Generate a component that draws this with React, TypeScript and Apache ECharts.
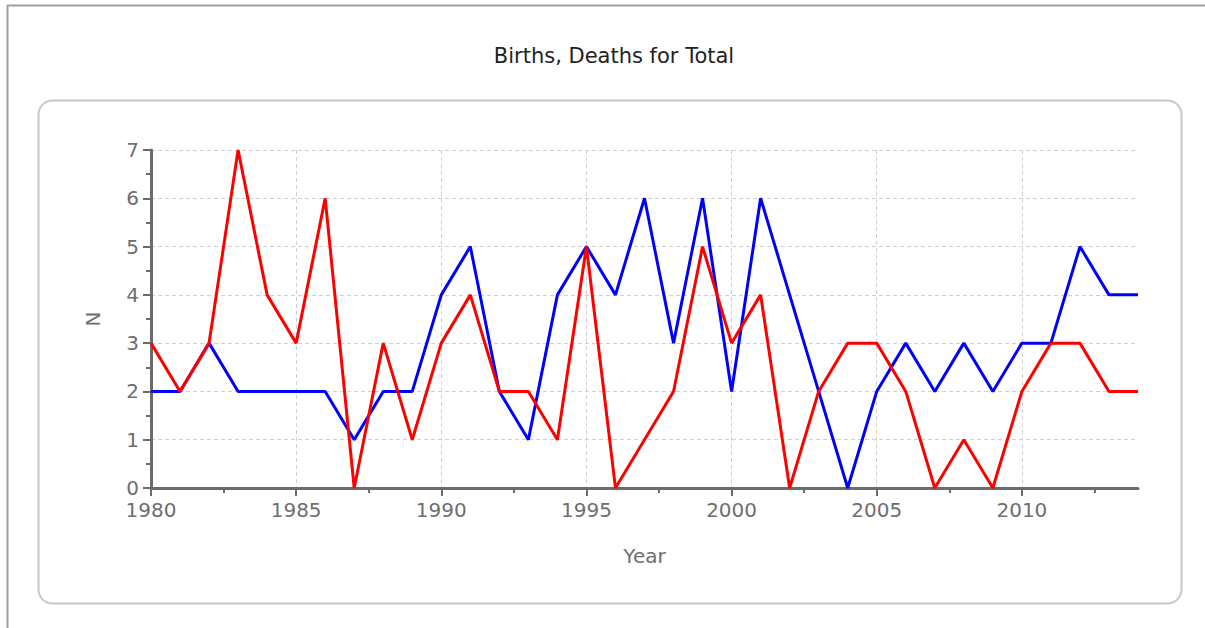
import React, { useEffect, useRef } from "react";
import * as echarts from "echarts";

const years = [1980, 1981, 1982, 1983, 1984, 1985, 1986, 1987, 1988, 1989, 1990, 1991, 1992, 1993, 1994, 1995, 1996, 1997, 1998, 1999, 2000, 2001, 2002, 2003, 2004, 2005, 2006, 2007, 2008, 2009, 2010, 2011, 2012, 2013, 2014];
const births = [2, 2, 3, 2, 2, 2, 2, 1, 2, 2, 4, 5, 2, 1, 4, 5, 4, 6, 3, 6, 2, 6, 4, 2, 0, 2, 3, 2, 3, 2, 3, 3, 5, 4, 4];
const deaths = [3, 2, 3, 7, 4, 3, 6, 0, 3, 1, 3, 4, 2, 2, 1, 5, 0, 1, 2, 5, 3, 4, 0, 2, 3, 3, 2, 0, 1, 0, 2, 3, 3, 2, 2];
const xMajorTicks = [1980, 1985, 1990, 1995, 2000, 2005, 2010];
const xMinorTicks = [1982.5, 1987.5, 1992.5, 1997.5, 2002.5, 2007.5, 2012.5];

const FONT = "DejaVu Sans";

export default function App() {
  const ref = useRef<HTMLDivElement>(null);
  useEffect(() => {
    if (!ref.current) return;
    const chart = echarts.init(ref.current, null, { renderer: "svg" });
    const axisColor = "#6b6b6b";
    const labelColor = "#6e6e6e";
    chart.setOption({
      animation: false,
      backgroundColor: "#ffffff",
      title: {
        text: "Births, Deaths for Total",
        left: 609,
        top: 40,
        textAlign: "center",
        textStyle: { fontFamily: FONT, fontSize: 21, fontWeight: "normal", color: "#222222" },
      },
      graphic: [
        {
          type: "polyline",
          shape: { points: [[7.5, 628], [7.5, 5.5], [1205, 5.5]] },
          style: { stroke: "#a0a0a0", lineWidth: 2, fill: "none" },
          silent: true,
        },
        {
          type: "rect",
          shape: { x: 38.5, y: 100.5, width: 1143, height: 503, r: 14 },
          style: { stroke: "#c8c8c8", lineWidth: 2, fill: "none" },
          silent: true,
          z: -1,
        },
      ],
      grid: { left: 151, top: 150, width: 987, height: 338, containLabel: false },
      xAxis: [
        {
          type: "value",
          min: 1980,
          max: 2014,
          interval: 5,
          name: "Year",
          nameLocation: "middle",
          nameGap: 58,
          nameTextStyle: { fontFamily: FONT, fontSize: 20, color: labelColor },
          axisLine: { show: true, onZero: false, lineStyle: { color: axisColor, width: 3 } },
          axisTick: { show: true, length: 8, customValues: xMajorTicks, lineStyle: { color: axisColor, width: 2 } },
          axisLabel: {
            customValues: xMajorTicks,
            margin: 12,
            fontFamily: FONT,
            fontSize: 20,
            color: labelColor,
            formatter: (v: number) => String(v),
          },
          splitLine: { show: true, lineStyle: { color: "#d0d0d0", type: [4, 3], width: 1 } },
        },
        {
          type: "value",
          min: 1980,
          max: 2014,
          interval: 5,
          position: "bottom",
          axisLine: { show: false },
          axisTick: { show: true, length: 5, customValues: xMinorTicks, lineStyle: { color: axisColor, width: 2 } },
          axisLabel: { show: false },
          splitLine: { show: false },
        },
      ],
      yAxis: {
        type: "value",
        min: 0,
        max: 7,
        interval: 1,
        name: "N",
        nameLocation: "middle",
        nameGap: 48,
        nameRotate: 90,
        nameTextStyle: { fontFamily: FONT, fontSize: 20, color: labelColor },
        axisLine: { show: true, lineStyle: { color: axisColor, width: 3 } },
        axisTick: { show: true, length: 8, lineStyle: { color: axisColor, width: 2 } },
        minorTick: { show: true, splitNumber: 2, length: 5, lineStyle: { color: axisColor, width: 2 } },
        axisLabel: { margin: 12, fontFamily: FONT, fontSize: 20, color: labelColor },
        splitLine: { show: true, lineStyle: { color: "#d0d0d0", type: [4, 3], width: 1 } },
      },
      series: [
        {
          name: "Births",
          type: "line",
          data: years.map((y, i) => [y, births[i]]),
          showSymbol: false,
          symbol: "none",
          lineStyle: { color: "#0000ff", width: 3 },
          itemStyle: { color: "#0000ff" },
          z: 3,
        },
        {
          name: "Deaths",
          type: "line",
          data: years.map((y, i) => [y, deaths[i]]),
          showSymbol: false,
          symbol: "none",
          lineStyle: { color: "#ff0000", width: 3 },
          itemStyle: { color: "#ff0000" },
          z: 4,
        },
      ],
    });
    return () => chart.dispose();
  }, []);
  return <div ref={ref} style={{ position: "fixed", left: 0, top: 0, width: 1205, height: 628 }} />;
}
